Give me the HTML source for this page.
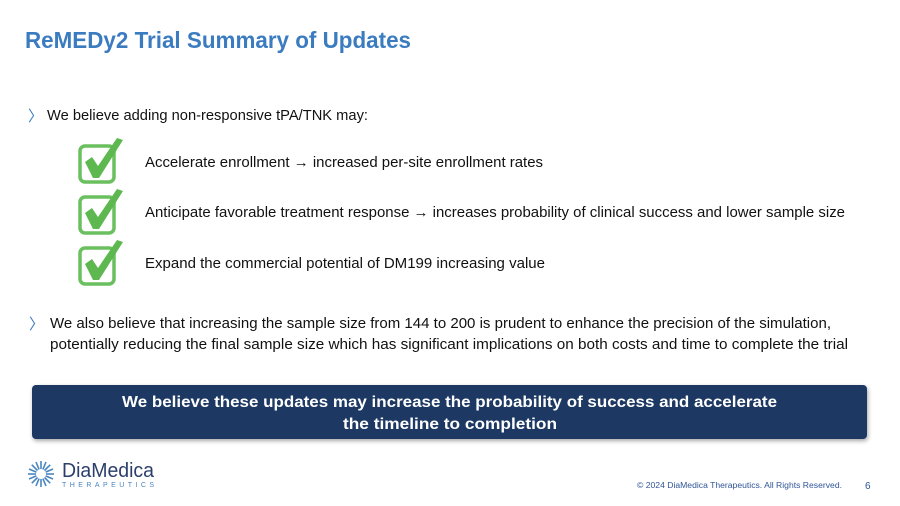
<!DOCTYPE html>
<html><head><meta charset="utf-8"><style>
html,body{margin:0;padding:0;background:#fff;}
svg{display:block;font-family:"Liberation Sans",sans-serif;}
</style></head><body>
<svg width="900" height="506" viewBox="0 0 900 506" xmlns="http://www.w3.org/2000/svg">
<defs>
<filter id="sh" x="-5%" y="-20%" width="110%" height="150%"><feDropShadow dx="1" dy="2" stdDeviation="2" flood-color="#000" flood-opacity="0.35"/></filter>
<g id="cb">
<rect x="2" y="8" width="34" height="36" rx="5" fill="none" stroke="#6abf5f" stroke-width="3.5"/>
<path d="M7 24 L14 19 L20 28 L39 0 L45 2 L21 40 L15 40 Z" fill="#5cb84f"/>
</g>
</defs>
<text x="25" y="48" font-size="23" font-weight="bold" fill="#3b7cc0" textLength="386" lengthAdjust="spacingAndGlyphs">ReMEDy2 Trial Summary of Updates</text>

<text x="28" y="121" font-size="15" fill="#3b7cc0">〉</text>
<text x="47" y="120" font-size="15" fill="#111" textLength="321" lengthAdjust="spacingAndGlyphs">We believe adding non-responsive tPA/TNK may:</text>

<use href="#cb" x="78" y="138"/>
<use href="#cb" x="78" y="189"/>
<use href="#cb" x="78" y="240"/>

<text x="145" y="167" font-size="15" fill="#111" textLength="398" lengthAdjust="spacingAndGlyphs">Accelerate enrollment → increased per-site enrollment rates</text>
<text x="145" y="217" font-size="15" fill="#111" textLength="700" lengthAdjust="spacingAndGlyphs">Anticipate favorable treatment response → increases probability of clinical success and lower sample size</text>
<text x="145" y="268" font-size="15" fill="#111" textLength="400" lengthAdjust="spacingAndGlyphs">Expand the commercial potential of DM199 increasing value</text>

<text x="29" y="329" font-size="15" fill="#3b7cc0">〉</text>
<text x="50" y="328" font-size="15" fill="#111" textLength="781" lengthAdjust="spacingAndGlyphs">We also believe that increasing the sample size from 144 to 200 is prudent to enhance the precision of the simulation,</text>
<text x="50" y="349" font-size="15" fill="#111" textLength="798" lengthAdjust="spacingAndGlyphs">potentially reducing the final sample size which has significant implications on both costs and time to complete the trial</text>

<rect x="32" y="385" width="835" height="54" rx="4" fill="#1f3864" filter="url(#sh)"/>
<text x="122" y="407" font-size="16" font-weight="bold" fill="#fff" textLength="655" lengthAdjust="spacingAndGlyphs">We believe these updates may increase the probability of success and accelerate</text>
<text x="343" y="429" font-size="16" font-weight="bold" fill="#fff" textLength="214" lengthAdjust="spacingAndGlyphs">the timeline to completion</text>

<g transform="translate(41,474)" stroke="#4a86c0" stroke-width="1.6">
<line x1="5" y1="0" x2="13" y2="0"/><line x1="-5" y1="0" x2="-13" y2="0"/>
<line x1="0" y1="5" x2="0" y2="13"/><line x1="0" y1="-5" x2="0" y2="-13"/>
<line x1="3.5" y1="3.5" x2="9.2" y2="9.2"/><line x1="-3.5" y1="-3.5" x2="-9.2" y2="-9.2"/>
<line x1="3.5" y1="-3.5" x2="9.2" y2="-9.2"/><line x1="-3.5" y1="3.5" x2="-9.2" y2="9.2"/>
<line x1="4.6" y1="1.9" x2="12" y2="5"/><line x1="-4.6" y1="-1.9" x2="-12" y2="-5"/>
<line x1="4.6" y1="-1.9" x2="12" y2="-5"/><line x1="-4.6" y1="1.9" x2="-12" y2="5"/>
<line x1="1.9" y1="4.6" x2="5" y2="12"/><line x1="-1.9" y1="-4.6" x2="-5" y2="-12"/>
<line x1="1.9" y1="-4.6" x2="5" y2="-12"/><line x1="-1.9" y1="4.6" x2="-5" y2="12"/>
</g>
<text x="62" y="477" font-size="20" fill="#2b3f6b" textLength="92" lengthAdjust="spacingAndGlyphs">DiaMedica</text>
<text x="62" y="487" font-size="7" fill="#4a86c0" textLength="92" lengthAdjust="spacing">THERAPEUTICS</text>

<text x="637" y="488" font-size="8" fill="#2f5597" textLength="205" lengthAdjust="spacingAndGlyphs">© 2024 DiaMedica Therapeutics. All Rights Reserved.</text>
<text x="865" y="489" font-size="10" fill="#2f5597">6</text>
</svg>
</body></html>
